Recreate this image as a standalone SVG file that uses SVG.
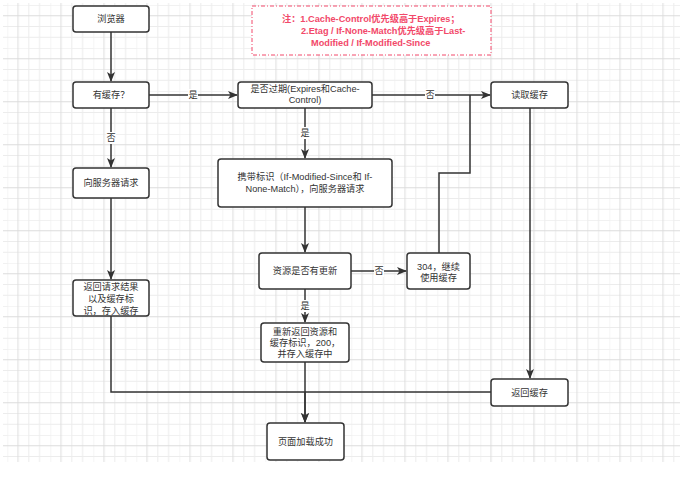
<svg xmlns="http://www.w3.org/2000/svg" width="693" height="483" viewBox="0 0 693 483">
<defs>
<pattern id="grid" patternUnits="userSpaceOnUse" x="7.3" y="5" width="43" height="43">
<path d="M0 0V43M21.5 0V43M32.25 0V43M0 0H43M21.5 0H43M0 21.5H43M0 32.25H43" stroke="#ececec" stroke-width="1" fill="none"/>
<path d="M10.75 0V43M0 10.75H43" stroke="#dcdcdc" stroke-width="1" fill="none"/>
</pattern>
<marker id="arr" markerWidth="10" markerHeight="8" refX="9" refY="4" orient="auto" markerUnits="userSpaceOnUse">
<path d="M0 0L10 4L0 8L2.5 4Z" fill="#333"/>
</marker>
<style>
.box{fill:#fff;stroke:#333;stroke-width:1.5}
.t{font-family:"Liberation Sans","Noto Sans CJK SC",sans-serif;font-size:9.2px;fill:#333;text-anchor:middle;dominant-baseline:central}
.lbl{font-family:"Liberation Sans","Noto Sans CJK SC",sans-serif;font-size:9.2px;fill:#333;text-anchor:middle;dominant-baseline:central}
.lb{fill:#fff}
.c{fill:none;stroke:#333;stroke-width:1.5}
.a{marker-end:url(#arr)}
.note{font-family:"Liberation Sans","Noto Sans CJK SC",sans-serif;font-size:9.2px;font-weight:bold;fill:#f2496a;dominant-baseline:central}
</style>
</defs>
<rect width="693" height="483" fill="#fff"/>
<rect x="3" y="3" width="677" height="459" fill="url(#grid)"/>

<g id="note">
<rect x="252" y="6" width="239" height="49" fill="#fff" stroke="#f2496a" stroke-width="1" stroke-dasharray="4 2 1 2"/>
<text class="note" x="282" y="19">注：1.Cache-Control优先级高于Expires；</text>
<text class="note" x="301" y="31">2.Etag / If-None-Match优先级高于Last-</text>
<text class="note" x="311" y="42.5">Modified / If-Modified-Since</text>
</g>

<g id="connectors">
<path class="c a" d="M111 32V81"/>
<path class="c a" d="M149 95H237"/>
<path class="c a" d="M111 108V167"/>
<path class="c a" d="M111 198V279"/>
<path class="c a" d="M111 316V392H305V422"/>
<path class="c" d="M491 392H305"/>
<path class="c a" d="M305 362V422"/>
<path class="c a" d="M305 108V158"/>
<path class="c a" d="M372 95H490"/>
<path class="c a" d="M305 207V252"/>
<path class="c a" d="M351 271H406"/>
<path class="c a" d="M305 289V322"/>
<path class="c" d="M439 253V173H470V95"/>
<path class="c a" d="M530 108V378"/>
<rect class="lb" x="188" y="89" width="10" height="12"/>
<text class="lbl" x="193" y="95">是</text>
<rect class="lb" x="106" y="132" width="10" height="12"/>
<text class="lbl" x="111" y="138">否</text>
<rect class="lb" x="300" y="127" width="10" height="12"/>
<text class="lbl" x="305" y="133">是</text>
<rect class="lb" x="425" y="89" width="10" height="12"/>
<text class="lbl" x="430" y="95">否</text>
<rect class="lb" x="374" y="265" width="10" height="12"/>
<text class="lbl" x="379" y="271">否</text>
<rect class="lb" x="300" y="300" width="10" height="12"/>
<text class="lbl" x="305" y="306">是</text>
</g>

<g id="browser"><rect class="box" x="73" y="6" width="76" height="26" rx="3"/><text class="t" x="111" y="19">浏览器</text></g>
<g id="hasCache"><rect class="box" x="73" y="82" width="76" height="26" rx="3"/><text class="t" x="111" y="95">有缓存？</text></g>
<g id="expired"><rect class="box" x="238" y="82" width="134" height="26" rx="3"/><text class="t" x="305" y="88.5">是否过期(Expires和Cache-</text><text class="t" x="305" y="100">Control)</text></g>
<g id="readCache"><rect class="box" x="491" y="82" width="77" height="26" rx="3"/><text class="t" x="529.5" y="95">读取缓存</text></g>
<g id="requestServer"><rect class="box" x="73" y="168" width="76" height="30" rx="3"/><text class="t" x="111" y="183">向服务器请求</text></g>
<g id="withTag"><rect class="box" x="218" y="159" width="174" height="48" rx="3"/><text class="t" x="305" y="177">携带标识（If-Modified-Since和 If-</text><text class="t" x="305" y="189">None-Match），向服务器请求</text></g>
<g id="updated"><rect class="box" x="259" y="253" width="92" height="36" rx="3"/><text class="t" x="305" y="271">资源是否有更新</text></g>
<g id="r304"><rect class="box" x="407" y="253" width="63" height="36" rx="3"/><text class="t" x="438.5" y="266.5">304，继续</text><text class="t" x="438.5" y="277.5">使用缓存</text></g>
<g id="returnResult"><rect class="box" x="73" y="280" width="76" height="36" rx="3"/><text class="t" x="111" y="287">返回请求结果</text><text class="t" x="111" y="299">以及缓存标</text><text class="t" x="111" y="310.5">识，存入缓存</text></g>
<g id="reReturn"><rect class="box" x="261" y="323" width="88" height="39" rx="3"/><text class="t" x="305" y="331.5">重新返回资源和</text><text class="t" x="305" y="342.5">缓存标识，200，</text><text class="t" x="305" y="354">并存入缓存中</text></g>
<g id="returnCache"><rect class="box" x="491" y="379" width="77" height="27" rx="3"/><text class="t" x="529.5" y="392.5">返回缓存</text></g>
<g id="loaded"><rect class="box" x="267" y="423" width="77" height="37" rx="3"/><text class="t" x="305.5" y="441.5">页面加载成功</text></g>
</svg>
